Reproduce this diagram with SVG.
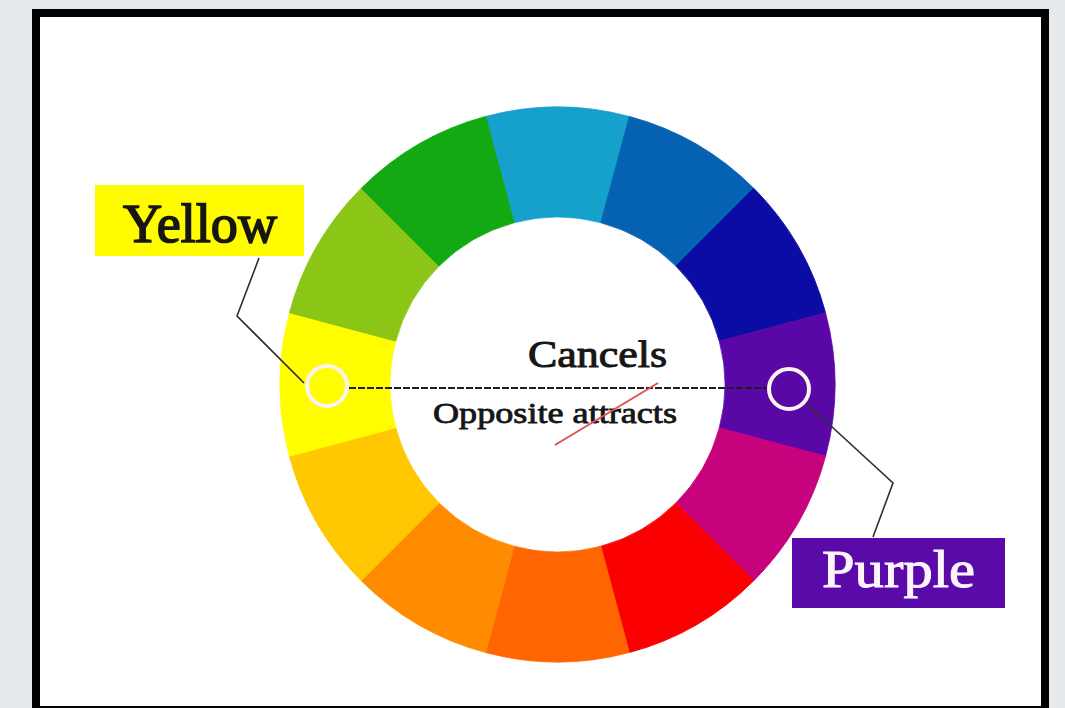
<svg xmlns="http://www.w3.org/2000/svg" xmlns:xlink="http://www.w3.org/1999/xlink" width="1065" height="708" viewBox="0 0 1065 708">
<style>
.lbl{font-family:"Liberation Serif","Times New Roman",serif;font-weight:normal;}
.dark{fill:#161616;stroke:#161616;}
.lead{fill:none;stroke:#2e2e2e;stroke-width:1.6;}
.ring{fill:none;stroke:#fbf4ef;stroke-width:4;}
</style>
<defs>
<path id="wedge" d="M 268.05 -71.82 A 277.5 277.5 0 0 1 268.05 71.82 L 161.79 43.35 A 167.5 167.5 0 0 0 161.79 -43.35 Z" stroke-width="0.8"/>
</defs>
<rect x="0" y="0" width="1065" height="708" fill="#e7eaed"/>
<rect x="36" y="13" width="1009" height="697" fill="#ffffff" stroke="#000000" stroke-width="8"/>

<g id="wheel" transform="translate(557.5,384.5)">
<use href="#wedge" transform="rotate(-90)" fill="#16a1cd" stroke="#16a1cd"/>
<use href="#wedge" transform="rotate(-60)" fill="#0562b2" stroke="#0562b2"/>
<use href="#wedge" transform="rotate(-30)" fill="#0b0ca3" stroke="#0b0ca3"/>
<use href="#wedge" transform="rotate(0)" fill="#5a07a7" stroke="#5a07a7"/>
<use href="#wedge" transform="rotate(30)" fill="#c6027d" stroke="#c6027d"/>
<use href="#wedge" transform="rotate(60)" fill="#fb0000" stroke="#fb0000"/>
<use href="#wedge" transform="rotate(90)" fill="#ff6500" stroke="#ff6500"/>
<use href="#wedge" transform="rotate(120)" fill="#ff8c00" stroke="#ff8c00"/>
<use href="#wedge" transform="rotate(150)" fill="#ffc700" stroke="#ffc700"/>
<use href="#wedge" transform="rotate(180)" fill="#fffd00" stroke="#fffd00"/>
<use href="#wedge" transform="rotate(210)" fill="#8bc516" stroke="#8bc516"/>
<use href="#wedge" transform="rotate(240)" fill="#12a912" stroke="#12a912"/>
</g>

<g id="connectors">
<polyline class="lead" points="259,258 237,316 304,383"/>
<polyline class="lead" points="806,403 893,483 873,537"/>
<line x1="349" y1="388" x2="767" y2="388" stroke="#1e1e1e" stroke-width="1.8" stroke-dasharray="7 2"/>
</g>

<g id="yellow-node">
<rect x="95" y="185" width="209" height="71" fill="#fffc00"/>
<text class="lbl dark" x="123" y="242" font-size="54" stroke-width="1.6" textLength="154" lengthAdjust="spacingAndGlyphs">Yellow</text>
<circle class="ring" cx="327" cy="386" r="20"/>
</g>

<g id="purple-node">
<rect x="792" y="538" width="213" height="70" fill="#5a0aa8"/>
<text class="lbl" x="822" y="587" font-size="52" fill="#fdf3fb" stroke="#fdf3fb" stroke-width="1" textLength="153" lengthAdjust="spacingAndGlyphs">Purple</text>
<circle class="ring" cx="789" cy="389" r="20"/>
</g>

<g id="center-text">
<text class="lbl dark" x="528" y="367" font-size="38" stroke-width="1" textLength="139" lengthAdjust="spacingAndGlyphs">Cancels</text>
<text class="lbl dark" x="433" y="423" font-size="29" stroke-width="0.8" textLength="244" lengthAdjust="spacingAndGlyphs">Opposite attracts</text>
<line x1="555" y1="445" x2="658" y2="383" stroke="#e0504f" stroke-width="2"/>
</g>
</svg>
